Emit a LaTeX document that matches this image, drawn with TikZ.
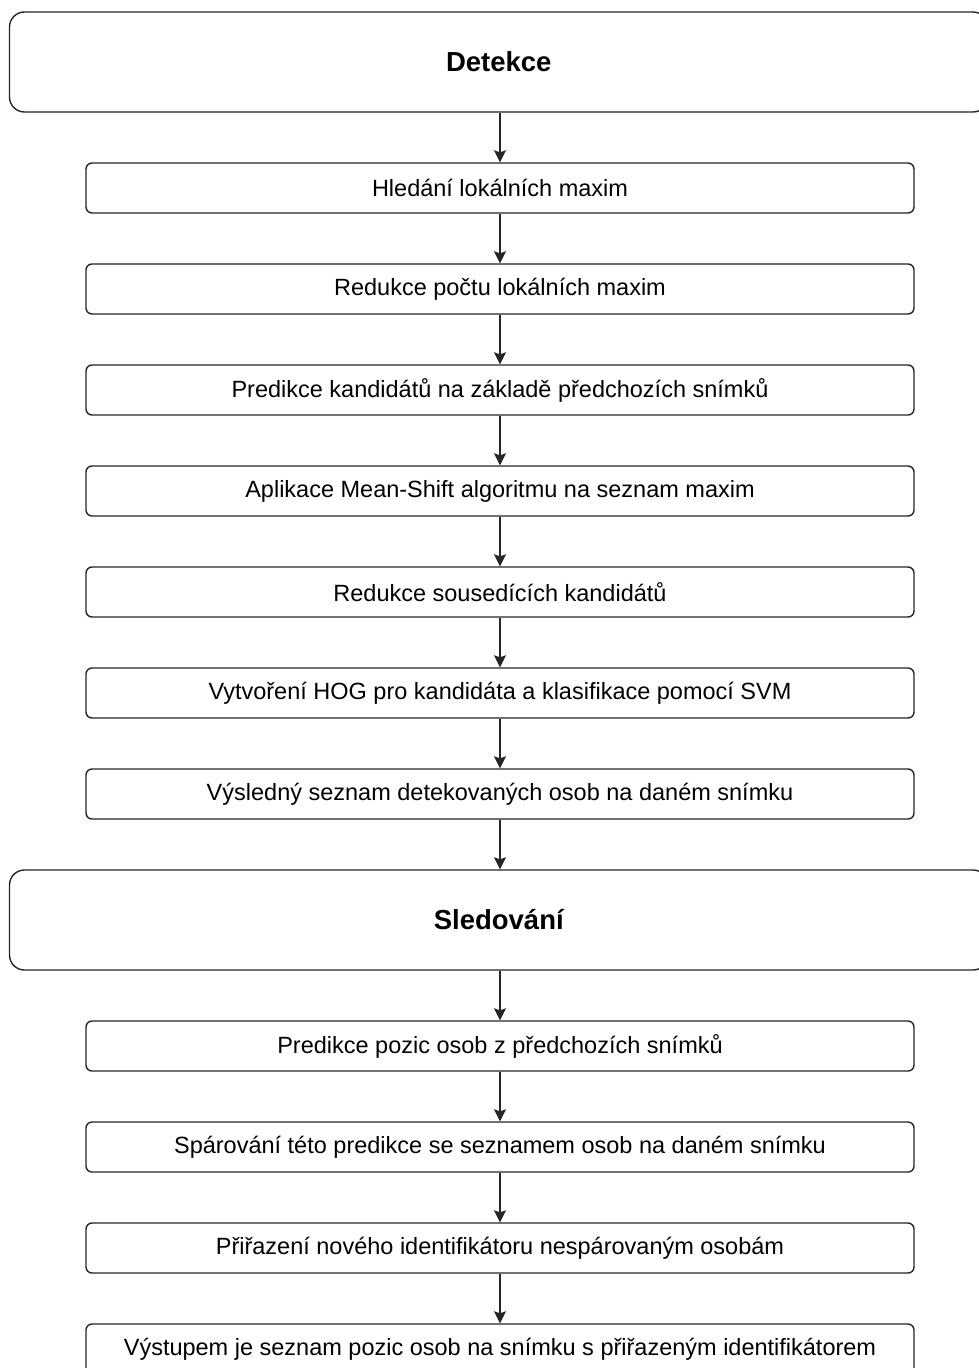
\documentclass[tikz,border=0pt]{standalone}
\usepackage{fontspec}
\setmainfont{Liberation Sans}
\usetikzlibrary{arrows.meta}
\definecolor{edge}{HTML}{262626}
\begin{document}
\begin{tikzpicture}[x=1pt,y=-1pt,
  stage/.style={draw=edge, line width=1.4pt, rounded corners=15pt, fill=white,
    minimum width=978.5pt, minimum height=100pt, inner sep=0pt,
    font=\fontsize{27.5}{32}\selectfont\bfseries},
  stepbox/.style={draw=edge, line width=1.4pt, rounded corners=6pt, fill=white,
    minimum width=828pt, minimum height=50pt, inner sep=0pt,
    font=\fontsize{23.5}{27}\selectfont},
  flow/.style={draw=edge, line width=1.4pt,
    -{Stealth[length=12pt,width=12pt,inset=2pt]}}]
\useasboundingbox (0,0) rectangle (979,1368);
\fill[white] (0,0) rectangle (979,1368);
\clip (0,0) rectangle (979,1368);

% Detection stage
\node[stage] (det) at (498.75,62) {Detekce};
\node[stepbox] (d1) at (500,188) {Hledání lokálních maxim};
\node[stepbox] (d2) at (500,289) {Redukce počtu lokálních maxim};
\node[stepbox] (d3) at (500,390) {Predikce kandidátů na základě předchozích snímků};
\node[stepbox] (d4) at (500,491) {Aplikace Mean-Shift algoritmu na seznam maxim};
\node[stepbox] (d5) at (500,592) {Redukce sousedících kandidátů};
\node[stepbox] (d6) at (500,693) {Vytvoření HOG pro kandidáta a klasifikace pomocí SVM};
\node[stepbox] (d7) at (500,794) {Výsledný seznam detekovaných osob na daném snímku};

% Tracking stage
\node[stage] (trk) at (498.75,920) {Sledování};
\node[stepbox] (t1) at (500,1046) {Predikce pozic osob z předchozích snímků};
\node[stepbox] (t2) at (500,1147) {Spárování této predikce se seznamem osob na daném snímku};
\node[stepbox] (t3) at (500,1248) {Přiřazení nového identifikátoru nespárovaným osobám};
\node[stepbox] (t4) at (500,1349) {Výstupem je seznam pozic osob na snímku s přiřazeným identifikátorem};

% Connectors
\draw[flow] (det.south -| d1.north) -- (d1.north);
\draw[flow] (d1) -- (d2);
\draw[flow] (d2) -- (d3);
\draw[flow] (d3) -- (d4);
\draw[flow] (d4) -- (d5);
\draw[flow] (d5) -- (d6);
\draw[flow] (d6) -- (d7);
\draw[flow] (d7.south) -- (d7.south |- trk.north);
\draw[flow] (trk.south -| t1.north) -- (t1.north);
\draw[flow] (t1) -- (t2);
\draw[flow] (t2) -- (t3);
\draw[flow] (t3) -- (t4);
\end{tikzpicture}
\end{document}
